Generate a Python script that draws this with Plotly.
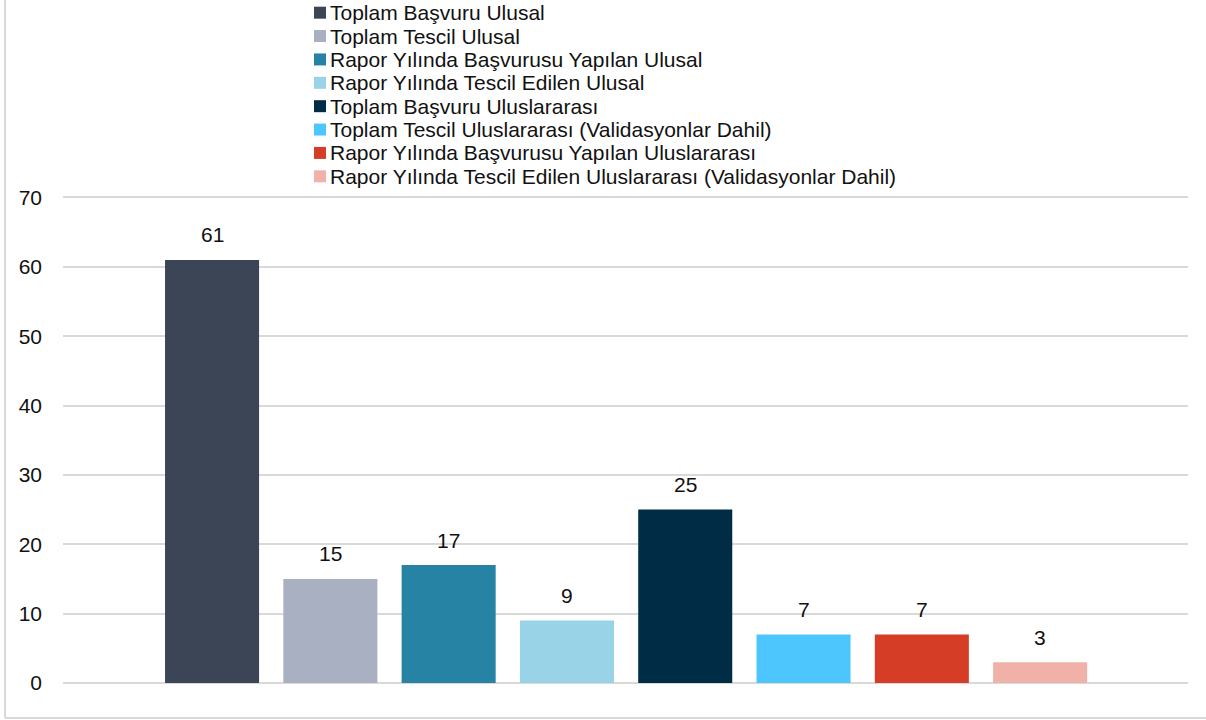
import plotly.graph_objects as go

series_names = [
    "Toplam Başvuru Ulusal",
    "Toplam Tescil Ulusal",
    "Rapor Yılında Başvurusu Yapılan Ulusal",
    "Rapor Yılında Tescil Edilen Ulusal",
    "Toplam Başvuru Uluslararası",
    "Toplam Tescil Uluslararası (Validasyonlar Dahil)",
    "Rapor Yılında Başvurusu Yapılan Uluslararası",
    "Rapor Yılında Tescil Edilen Uluslararası (Validasyonlar Dahil)",
]
series_values = [61, 15, 17, 9, 25, 7, 7, 3]
series_colors = [
    "#3c4556", "#a9b0c1", "#2683a4", "#98d3e8",
    "#002d45", "#4dc6fd", "#d63d27", "#f0b1a9",
]

W, H = 1206, 720
ML, MR, MT, MB = 63, 18, 193.5, 37
PW, PH = W - ML - MR, H - MT - MB

fig = go.Figure()
for name, val, col in zip(series_names, series_values, series_colors):
    fig.add_trace(go.Bar(
        x=[name],
        y=[val],
        name=name,
        marker=dict(color=col, line=dict(width=0)),
        showlegend=False,
    ))

# value labels above bars
annotations = []
for name, val in zip(series_names, series_values):
    annotations.append(dict(
        x=name, y=val, xref="x", yref="y", text=str(val), showarrow=False,
        yanchor="middle", yshift=25, font=dict(size=21, color="#111111"),
    ))

# legend drawn as stacked rows above the plot
shapes = []
row_h = 23.4
for i, (name, col) in enumerate(zip(series_names, series_colors)):
    cy = 12 + i * row_h
    yp = (H - MB - cy) / PH
    x0 = (314 - ML) / PW
    x1 = (326 - ML) / PW
    shapes.append(dict(
        type="rect", xref="paper", yref="paper", x0=x0, x1=x1,
        y0=yp - 6 / PH, y1=yp + 6 / PH, fillcolor=col, line=dict(width=0),
    ))
    annotations.append(dict(
        x=(328 - ML) / PW, y=yp, xref="paper", yref="paper", text=name,
        showarrow=False, xanchor="left", yanchor="middle",
        font=dict(size=21, color="#111111"),
    ))

# light frame (left and bottom edges)
fx = (5 - ML) / PW
fy0 = (H - MB - 718) / PH
fy1 = (H - MB + 2) / PH
shapes.append(dict(type="line", xref="paper", yref="paper", x0=fx, x1=fx,
                   y0=fy0, y1=fy1, line=dict(color="#d9d9d9", width=2)))
shapes.append(dict(type="line", xref="paper", yref="paper", x0=fx, x1=(W - ML) / PW,
                   y0=fy0, y1=fy0, line=dict(color="#d9d9d9", width=2)))

fig.update_layout(
    width=W,
    height=H,
    barmode="overlay",
    bargap=0.205,
    plot_bgcolor="white",
    paper_bgcolor="white",
    font=dict(family="Liberation Sans, Arial, sans-serif", color="#111111"),
    margin=dict(l=ML, r=MR, t=MT, b=MB, autoexpand=False),
    showlegend=False,
    yaxis=dict(
        range=[0, 70.5],
        tickvals=[0, 10, 20, 30, 40, 50, 60, 70],
        showgrid=True,
        gridcolor="#d9d9d9",
        gridwidth=2,
        zeroline=True,
        zerolinecolor="#d9d9d9",
        zerolinewidth=2,
        showline=False,
        tickfont=dict(size=21, color="#111111"),
        ticks="",
        ticklabelstandoff=20,
    ),
    xaxis=dict(
        type="category",
        range=[-1.26, 8.25],
        showticklabels=False,
        showgrid=False,
        zeroline=False,
        showline=False,
    ),
    annotations=annotations,
    shapes=shapes,
)

# drop the default page margin so the figure sits at the window origin
fig.write_html(
    "out.html",
    config={"displayModeBar": False},
    post_script="document.body.style.margin='0';",
)
